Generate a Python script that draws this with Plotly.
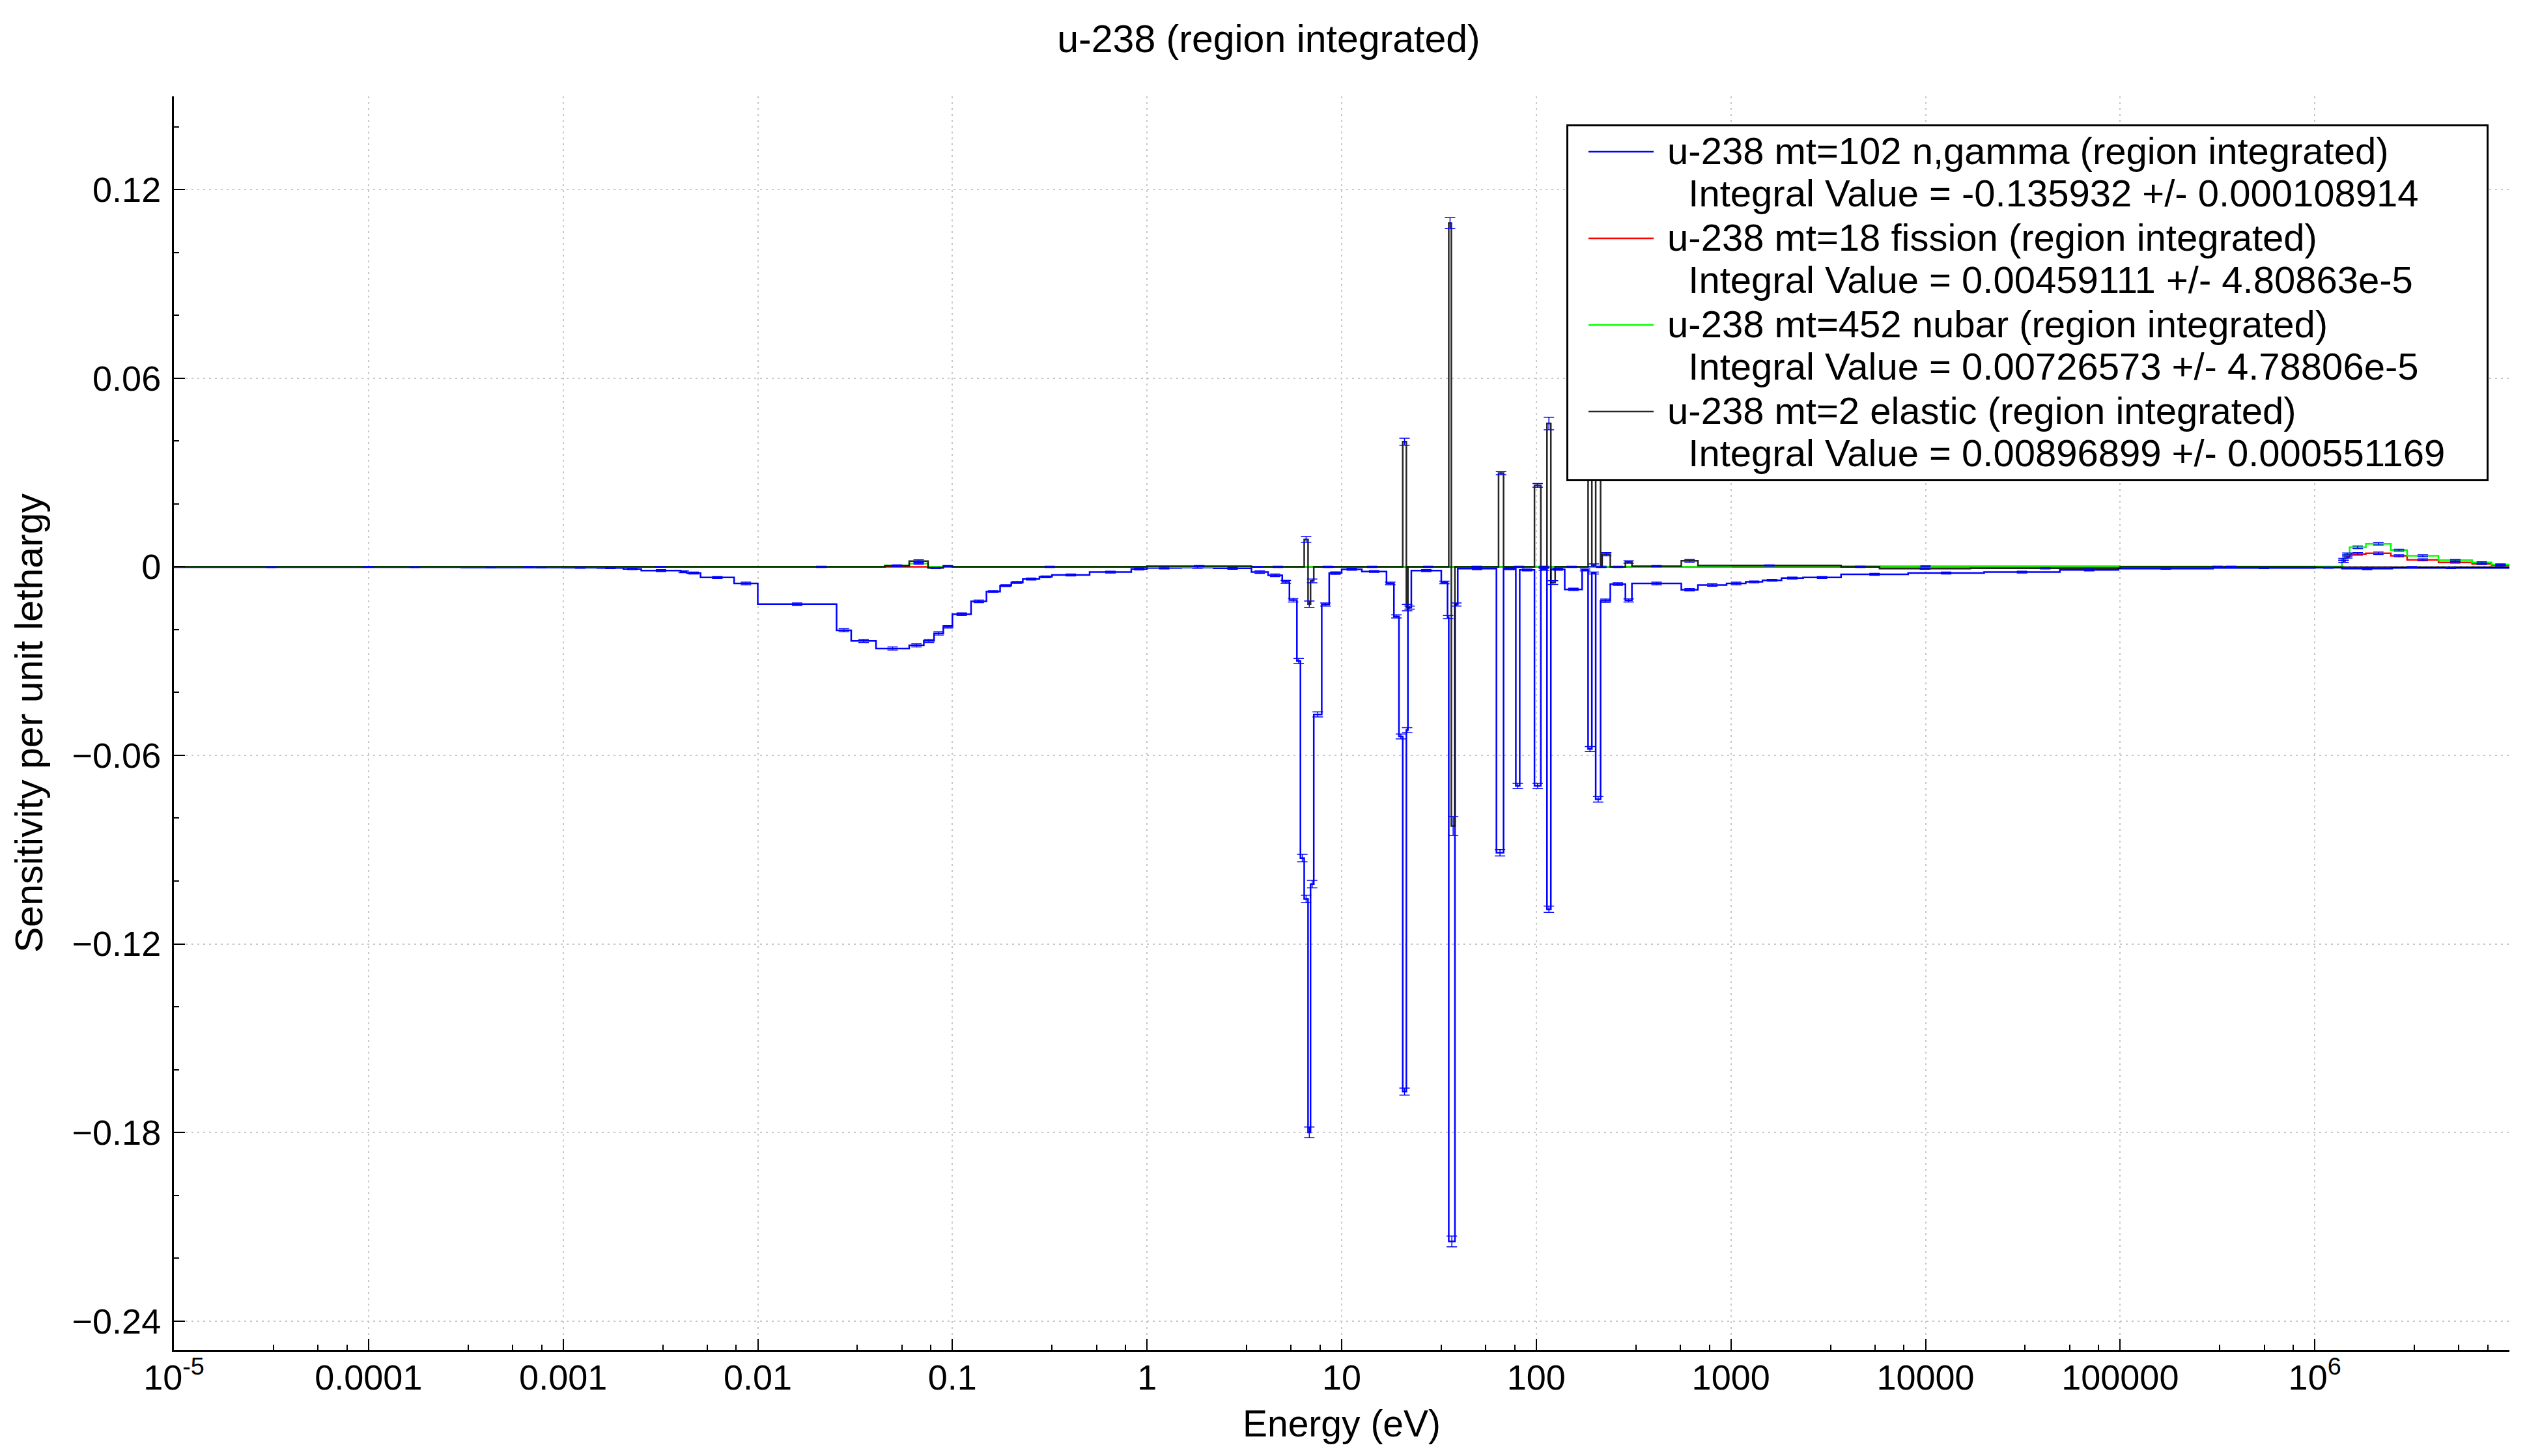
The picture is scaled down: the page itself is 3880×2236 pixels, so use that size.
import numpy as np
import plotly.graph_objects as go

# ---------------- text ----------------
title_text = "u-238 (region integrated)"
x_title = "Energy (eV)"
y_title = "Sensitivity per unit lethargy"

# ---------------- axes ----------------
x_tick_values = [1e-5, 1e-4, 1e-3, 1e-2, 1e-1, 1, 10, 100, 1000, 1e4, 1e5, 1e6]
x_tick_labels = ["10<sup>-5</sup>", "0.0001", "0.001", "0.01", "0.1", "1", "10",
                 "100", "1000", "10000", "100000", "10<sup>6</sup>"]
x_minor_mantissas = [3.25, 5.5, 7.75]
y_tick_values = [-0.24, -0.18, -0.12, -0.06, 0.0, 0.06, 0.12]
y_tick_labels = ["\u22120.24", "\u22120.18", "\u22120.12", "\u22120.06", "0", "0.06", "0.12"]

# ---------------- data: u-238 mt=102 n,gamma ----------------
ngamma_edges = [
    1e-5, 1e-4, 3e-4, 6e-4, 0.001, 0.0015, 0.00204, 0.00252, 0.00402, 0.00431, 0.00508, 0.00756, 0.01,
    0.0254, 0.0302, 0.0405, 0.060, 0.0713, 0.0805, 0.0898, 0.1,
    0.1247, 0.1496, 0.1758, 0.2007, 0.230, 0.280, 0.325, 0.507, 0.83, 1.0,
    1.5, 2.2, 3.44, 4.19, 4.95, 5.39, 5.89, 6.14, 6.42, 6.72, 6.92, 7.19, 7.9, 8.63, 10.0,
    12.7, 17.0, 18.56, 19.7, 20.6, 21.5, 21.9, 22.8, 32.5, 35.0, 35.5, 38.2, 39.5,
    62.4, 67.9, 78.5, 82.2, 97.9, 105.5, 113.5, 118.8, 140.0, 172.0, 184.6, 193.0, 202.0, 214.0,
    240.0, 287.0, 310.0, 556.0, 677.0, 950.0, 1192.0, 1452.0, 1820.0, 2350.0, 3680.0, 8140.0,
    2.0e4, 4.9e4, 9.8e4, 3.0e5, 1.0e6, 1.38e6, 2.5e6, 1.0e7,
]
ngamma_values = [
    -0.0001, -0.0001, -0.0002, -0.0002, -0.0003, -0.0004, -0.0007, -0.0012, -0.0016, -0.0020, -0.0034, -0.0053,
    -0.0119, -0.0202, -0.0236, -0.0260, -0.0250, -0.0236, -0.0212, -0.0191,
    -0.0151, -0.0110, -0.0079, -0.0060, -0.0050, -0.0039, -0.0032, -0.0026, -0.0017, -0.0007,
    -0.0004, -0.0002, -0.0005, -0.0017, -0.0027, -0.0048, -0.0106, -0.0300, -0.0927, -0.1057, -0.1800, -0.1010, -0.0470, -0.0120, -0.0020,
    -0.0008, -0.0015, -0.0053, -0.0158, -0.0540, -0.1670, -0.0520, -0.0130, -0.0012, -0.0050, -0.0160, -0.2147, -0.0120,
    -0.0006, -0.0910, -0.0006, -0.0697, -0.0010, -0.0697, -0.0008, -0.1090, -0.0008, -0.0072, -0.0010, -0.0580, -0.0020, -0.0740,
    -0.0108, -0.0055, -0.0107, -0.0053, -0.0073, -0.0058, -0.0053, -0.0048, -0.0043, -0.0036, -0.0034, -0.0024,
    -0.0020, -0.0017, -0.0010, -0.0006, -0.0004, -0.0003, -0.0006, -0.0004,
]
ngamma_sigma = [
    0.0001, 0.0001, 0.0001, 0.0001, 0.0002, 0.0002, 0.0002, 0.0003, 0.0003, 0.0003, 0.0003, 0.0004,
    0.0004, 0.0005, 0.0005, 0.0005, 0.0005, 0.0005, 0.0005, 0.0004,
    0.0004, 0.0004, 0.0003, 0.0003, 0.0003, 0.0003, 0.0003, 0.0003, 0.0003, 0.0003,
    0.0003, 0.0003, 0.0003, 0.0004, 0.0004, 0.0005, 0.0006, 0.0008, 0.0012, 0.0012, 0.0017, 0.0012, 0.0008, 0.0005, 0.0004,
    0.0003, 0.0003, 0.0004, 0.0005, 0.0008, 0.0011, 0.0008, 0.0005, 0.0003, 0.0004, 0.0005, 0.0017, 0.0005,
    0.0003, 0.0010, 0.0003, 0.0008, 0.0003, 0.0008, 0.0003, 0.0010, 0.0003, 0.0004, 0.0003, 0.0008, 0.0003, 0.0009,
    0.0005, 0.0004, 0.0005, 0.0004, 0.0004, 0.0004, 0.0004, 0.0003, 0.0003, 0.0003, 0.0003, 0.0003,
    0.0003, 0.0003, 0.0003, 0.0002, 0.0002, 0.0002, 0.0003, 0.0002,
]

# ---------------- data: u-238 mt=18 fission ----------------
fission_edges = [1e-5, 1.38e6, 1.43e6, 1.51e6, 1.83e6, 2.46e6, 2.98e6, 4.32e6, 6.43e6, 8.1e6, 1.0e7]
fission_values = [0.0, 0.0017, 0.0031, 0.0041, 0.0043, 0.0035, 0.0022, 0.0014, 0.0009, 0.0005]
fission_sigma = [0.0001, 0.0003, 0.0003, 0.0004, 0.0004, 0.0003, 0.0003, 0.0002, 0.0002, 0.0002]

# ---------------- data: u-238 mt=452 nubar ----------------
nubar_edges = [1e-5, 0.045, 0.06, 0.075, 1000.0, 1.0e5, 1.38e6, 1.43e6, 1.51e6, 1.83e6,
               2.46e6, 2.98e6, 4.32e6, 6.43e6, 8.1e6, 1.0e7]
nubar_values = [0.0, 0.0004, 0.0010, 0.0, 0.0002, 0.0001, 0.0024, 0.0041, 0.0062, 0.0073,
                0.0053, 0.0035, 0.0021, 0.0014, 0.0007]
nubar_sigma = [0.0001, 0.0002, 0.0002, 0.0001, 0.0001, 0.0001, 0.0003, 0.0003, 0.0004, 0.0004,
               0.0003, 0.0003, 0.0002, 0.0002, 0.0002]

# ---------------- data: u-238 mt=2 elastic ----------------
elastic_edges = [
    1e-5, 0.001, 0.01, 0.045, 0.06, 0.075, 0.0898, 0.1, 1.0, 3.44,
    6.42, 6.72, 6.92, 7.19, 10.0, 20.6, 21.5, 21.9, 35.5, 36.6,
    38.2, 64.0, 67.9, 97.9, 105.5, 113.5, 118.8, 125.0, 184.6, 193.0,
    202.0, 214.0, 218.0, 240.0, 287.0, 310.0, 556.0, 677.0, 3680.0, 5800.0,
    1.7e4, 1.0e5, 1.0e6, 1.0e7,
]
elastic_values = [
    0.0, 0.0, 0.0, 0.0003, 0.0018, -0.0004, 0.0002, 0.0, 0.0002, 0.0,
    0.0087, -0.0119, -0.0045, 0.0, 0.0, 0.0398, -0.0130, 0.0, 0.1094, -0.0825,
    0.0, 0.0298, 0.0, 0.0259, 0.0, 0.0456, -0.0050, 0.0, 0.0340, 0.0005,
    0.0360, 0.0, 0.0040, 0.0, 0.0015, 0.0002, 0.0019, 0.0004, 0.0, -0.0006,
    -0.0005, 0.0, -0.0001,
]
elastic_sigma = [
    0.0001, 0.0001, 0.0002, 0.0002, 0.0004, 0.0002, 0.0002, 0.0002, 0.0002, 0.0002,
    0.0009, 0.0010, 0.0006, 0.0002, 0.0002, 0.0011, 0.0010, 0.0002, 0.0017, 0.0030,
    0.0002, 0.0005, 0.0002, 0.0006, 0.0002, 0.0020, 0.0006, 0.0002, 0.0015, 0.0004,
    0.0015, 0.0002, 0.0005, 0.0002, 0.0004, 0.0002, 0.0004, 0.0002, 0.0002, 0.0002,
    0.0002, 0.0002, 0.0002,
]

series_names = [
    "u-238 mt=102 n,gamma (region integrated)",
    "u-238 mt=18 fission (region integrated)",
    "u-238 mt=452 nubar (region integrated)",
    "u-238 mt=2 elastic (region integrated)",
]
integral_texts = [
    "Integral Value = -0.135932 +/- 0.000108914",
    "Integral Value = 0.00459111 +/- 4.80863e-5",
    "Integral Value = 0.00726573 +/- 4.78806e-5",
    "Integral Value = 0.00896899 +/- 0.000551169",
]
series_colors = ["#0000ff", "#ff0000", "#00ff00", "rgba(0,0,0,0.85)"]
error_color = "#0000ff"

series = [
    (ngamma_edges, ngamma_values, ngamma_sigma),
    (fission_edges, fission_values, fission_sigma),
    (nubar_edges, nubar_values, nubar_sigma),
    (elastic_edges, elastic_values, elastic_sigma),
]

FONT = "Liberation Sans, Arial, Helvetica, sans-serif"
NB = "\u00a0"
LEGEND_GLYPH = 58  # glyph size of legend text (line pitch set by legend font size)


def legend_label(name, itxt):
    line1 = NB + name
    line2 = NB * 3 + itxt + NB * 3 + "\u2006"
    return ("<span style='font-size:%dpx'>%s</span><br>"
            "<span style='font-size:%dpx'>%s</span>" % (LEGEND_GLYPH, line1, LEGEND_GLYPH, line2))


fig = go.Figure()

# step lines (histogram style, per unit lethargy)
for (edges, vals, sig), name, itxt, col in zip(series, series_names, integral_texts, series_colors):
    fig.add_trace(go.Scatter(
        x=edges, y=list(vals) + [vals[-1]],
        mode="lines", line=dict(shape="hv", color=col, width=2.5),
        name=legend_label(name, itxt),
        hoverinfo="skip",
    ))

# uncertainty bars at bin centres
for (edges, vals, sig) in series:
    centres = [float(np.sqrt(a * b)) for a, b in zip(edges[:-1], edges[1:])]
    fig.add_trace(go.Scatter(
        x=centres, y=vals, mode="markers",
        marker=dict(size=1, color="rgba(0,0,0,0)"),
        error_y=dict(type="data", array=sig, visible=True, color=error_color,
                     thickness=1.5, width=8),
        showlegend=False, hoverinfo="skip",
    ))

x_minor_vals = [m * 10.0 ** k for k in range(-5, 7) for m in x_minor_mantissas]

# page body has an 8px margin: figure offsets below compensate for it
fig.update_layout(
    width=3880, height=2236,
    margin=dict(l=259, r=35, t=140, b=171),
    paper_bgcolor="white", plot_bgcolor="white",
    font=dict(family=FONT, size=54, color="black"),
    title=dict(text=title_text, x=0.5, xref="container", xanchor="center",
               y=1 - 51 / 2236, yref="container", yanchor="middle",
               font=dict(family=FONT, size=59, color="black")),
    showlegend=True,
    legend=dict(x=0.5962, y=0.9777, xanchor="left", yanchor="top",
                bgcolor="white", bordercolor="black", borderwidth=3,
                font=dict(family=FONT, size=50, color="black"),
                itemwidth=100, valign="top", traceorder="normal",
                indentation=26),
)

fig.update_xaxes(
    type="log", range=[-5, 7], automargin=False,
    tickmode="array", tickvals=x_tick_values, ticktext=x_tick_labels,
    ticks="inside", ticklen=17, tickwidth=2, tickcolor="black",
    tickfont=dict(family=FONT, size=54, color="black"),
    ticklabelstandoff=-7,
    showline=True, linecolor="black", linewidth=3, mirror=False,
    showgrid=True, gridcolor="#c8c8c8", gridwidth=2, griddash="3px,6px",
    zeroline=False,
    minor=dict(tickmode="array", tickvals=x_minor_vals, ticks="inside",
               ticklen=8, tickwidth=2, tickcolor="black", showgrid=False),
    title=dict(text=x_title, font=dict(family=FONT, size=57, color="black"), standoff=23),
)
fig.update_yaxes(
    range=[-0.2492, 0.1497], automargin=False,
    tickmode="array", tickvals=y_tick_values, ticktext=y_tick_labels,
    ticks="inside", ticklen=17, tickwidth=2, tickcolor="black",
    tickfont=dict(family=FONT, size=54, color="black"),
    ticklabelstandoff=6,
    showline=True, linecolor="black", linewidth=3, mirror=False,
    showgrid=True, gridcolor="#c8c8c8", gridwidth=2, griddash="3px,6px",
    zeroline=False,
    minor=dict(dtick=0.02, tick0=0, ticks="inside", ticklen=8, tickwidth=2,
               tickcolor="black", showgrid=False),
    title=dict(text=y_title, font=dict(family=FONT, size=59, color="black"), standoff=26),
)

fig.write_html("out.html", config={"displayModeBar": False})
